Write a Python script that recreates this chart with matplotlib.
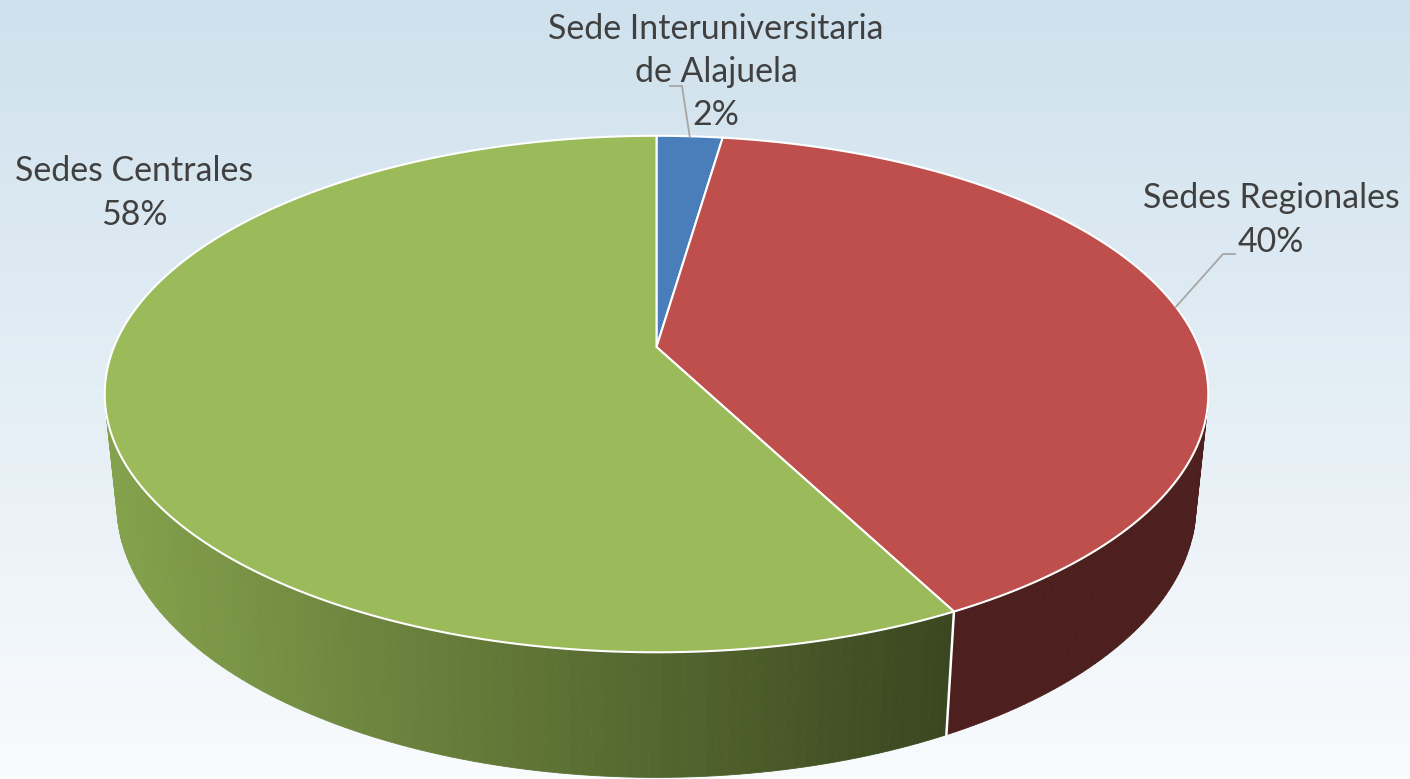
import numpy as np
import matplotlib.pyplot as plt
from matplotlib.patches import Polygon
from matplotlib.colors import to_rgb

# pie data (percent of total), Excel order: clockwise from 12 o'clock
labels = ['Sede Interuniversitaria\nde Alajuela', 'Sedes Regionales', 'Sedes Centrales']
values = [2.3, 40.1, 57.6]
top_colors = ['#4a7ebb', '#be4f4c', '#9bba59']
side_colors = ['#2c4a70', '#4d1f1f', None]  # None -> gradient
label_pos = [(716, 72), (1271, 220), (134, 193)]
leader_elbow = [((670, 86), (682, 86)), ((1235, 254), (1223, 254)), None]

W, H = 1410, 779

# camera for the 3D look
elev = np.radians(27.4)
s, c = np.sin(elev), np.cos(elev)
D, f, h = 4.875, 2645.0, 0.232
cx, cy = 656.5, 347.0


def project(theta, z):
    X, Y = np.sin(theta), np.cos(theta)
    dist = D + c * Y - s * z
    return cx + f * X / dist, cy - f * (s * Y + c * z) / dist


fig = plt.figure(figsize=(W / 100, H / 100), dpi=100)
ax = fig.add_axes([0, 0, 1, 1])
ax.set_xlim(0, W)
ax.set_ylim(H, 0)
ax.axis('off')

# background gradient
top_bg = np.array(to_rgb('#cfe1ed'))
bot_bg = np.array(to_rgb('#f9fbfd'))
t = np.linspace(0, 1, 256)[:, None, None]
ax.imshow(top_bg * (1 - t) + bot_bg * t, extent=[0, W, H, 0], aspect='auto', zorder=0)

g_left = np.array(to_rgb('#84a24c'))
g_right = np.array(to_rgb('#3a4720'))

bounds = np.concatenate([[0], np.cumsum(values)]) / sum(values) * 2 * np.pi
y_vis = -1 / (D * c)

# side walls
for i in range(len(values)):
    a0, a1 = bounds[i], bounds[i + 1]
    angs = np.linspace(a0, a1, max(int(np.degrees(a1 - a0)), 2) + 1)
    for ta, tb in zip(angs[:-1], angs[1:]):
        if np.cos((ta + tb) / 2) > y_vis:
            continue
        p = [project(ta, 0), project(tb, 0), project(tb, -h), project(ta, -h)]
        if side_colors[i] is None:
            xm = np.mean([q[0] for q in p])
            k = np.clip((xm - 110) / (945 - 110), 0, 1)
            col = g_left * (1 - k) + g_right * k
        else:
            col = side_colors[i]
        ax.add_patch(Polygon(p, closed=True, facecolor=col, edgecolor=col, lw=0.6, zorder=2))

# white edge on front wall at slice boundaries
for b in bounds[1:-1]:
    if np.cos(b) < y_vis:
        p0, p1 = project(b, 0), project(b, -h)
        ax.plot([p0[0], p1[0]], [p0[1], p1[1]], color='white', lw=1.8, zorder=3)

# top face
for i in range(len(values)):
    angs = np.linspace(bounds[i], bounds[i + 1], 200)
    pts = [(cx, cy)] + [project(a, 0) for a in angs]
    ax.add_patch(Polygon(pts, closed=True, facecolor=top_colors[i], edgecolor='white',
                         lw=1.5, joinstyle='round', zorder=4))

# labels and leader lines
for i in range(len(values)):
    ax.text(label_pos[i][0], label_pos[i][1], f'{labels[i]}\n{values[i]:.0f}%',
            ha='center', va='center', fontsize=24.4, family='Lato', color='#404040',
            linespacing=1.44, zorder=6)
    if leader_elbow[i] is not None:
        mid = (bounds[i] + bounds[i + 1]) / 2
        end = project(mid, 0)
        (x0, y0), (x1, y1) = leader_elbow[i]
        ax.plot([x0, x1, end[0]], [y0, y1, end[1]], color='#a6a6a6', lw=1.3, zorder=5)

fig.savefig('out.png', dpi=100)
